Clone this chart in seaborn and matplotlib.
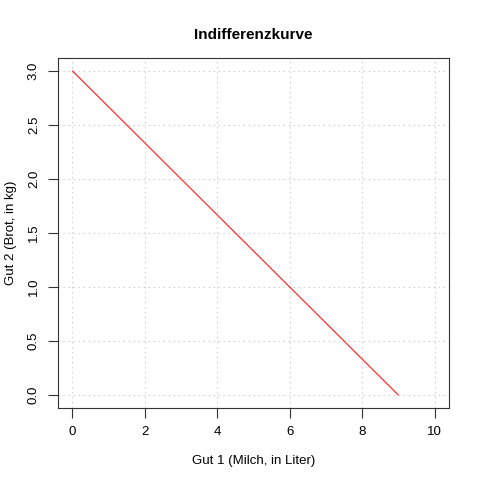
import matplotlib
matplotlib.use("Agg")
import matplotlib.pyplot as plt
import seaborn as sns
import pandas as pd

# indifference curve endpoints
gut1 = [0, 9]
gut2 = [3, 0]
xticks = [0, 2, 4, 6, 8, 10]
yticks = [0.0, 0.5, 1.0, 1.5, 2.0, 2.5, 3.0]

sns.set_style("white")
plt.rcParams['font.family'] = ['Liberation Sans', 'DejaVu Sans']
plt.rcParams['text.color'] = 'black'

df = pd.DataFrame({"x": gut1, "y": gut2})

fig = plt.figure(figsize=(4.8, 4.8), dpi=100)
ax = fig.add_axes([58/480, 72/480, 391/480, 350/480])

sns.lineplot(data=df, x="x", y="y", color="#ff3030", linewidth=0.9, ax=ax)

ax.set_xlim(-0.4, 10.4)
ax.set_ylim(-0.12, 3.12)
ax.set_xticks(xticks)
ax.set_yticks(yticks)
ax.set_xticklabels([str(t) for t in xticks])
ax.set_yticklabels([f"{t:.1f}" for t in yticks], rotation=90, va="center")
ax.grid(True, color="#d3d3d3", linestyle=(0, (1.5, 3)), linewidth=0.8)
ax.tick_params(axis="both", direction="out", length=7, width=0.8,
               labelsize=9.5, pad=6, color="#333333", labelcolor="black",
               left=True, bottom=True)
for s in ax.spines.values():
    s.set_color("#333333")
    s.set_linewidth(0.8)

ax.set_title("Indifferenzkurve", fontsize=11, fontweight="bold", pad=14, color="black")
ax.set_xlabel("Gut 1 (Milch, in Liter)", fontsize=9.5, labelpad=12, color="black")
ax.set_ylabel("Gut 2 (Brot, in kg)", fontsize=9.5, labelpad=8, color="black")

fig.savefig("out.png", dpi=100)
